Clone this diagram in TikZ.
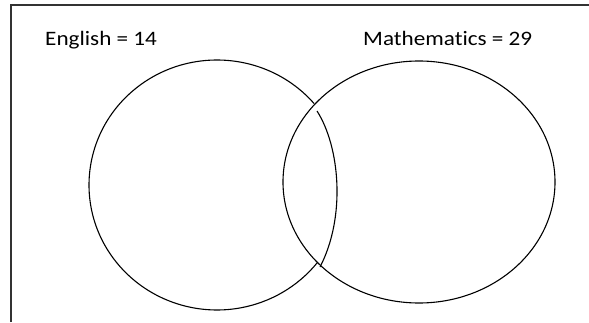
\documentclass[tikz,border=0pt]{standalone}
\usepackage{fontspec}
\setmainfont{Carlito}[Ligatures=NoCommon]
\usetikzlibrary{shapes.geometric}
\begin{document}
\begin{tikzpicture}[x=1pt,y=1pt,
  frameline/.style={line width=1.5pt,draw={rgb,255:red,50;green,50;blue,50}},
  setline/.style={line width=1.1pt,draw=black},
  lbl/.style={anchor=base west,inner sep=0pt,font=\fontsize{20.5}{24}\selectfont,xscale=1.13}]
\useasboundingbox (0,0) rectangle (589,322);
\coordinate (fbl) at (11,0);
\coordinate (ftl) at (11,317);
\coordinate (ftr) at (589,317);
\draw[frameline] (fbl) -- (ftl) -- (ftr);
\node[lbl] (eng) at (45,276) {English = 14};
\node[lbl] (mat) at (363,276) {Mathematics = 29};
% right set
\node[setline,ellipse,minimum width=272pt,minimum height=242pt,inner sep=0pt] (mset) at (419,140) {};
% left set (outer arc)
\coordinate (ltop) at ({217+128*cos(40.6)},{137+125*sin(40.6)});
\draw[setline] (ltop) arc[start angle=40.6,end angle=321.5,x radius=128,y radius=125];
% inner boundary of left set
\coordinate (istart) at (317,211);
\coordinate (iend) at (320,55);
\draw[setline] (istart) .. controls (340,175) and (346,105) .. (iend);
\end{tikzpicture}
\end{document}
